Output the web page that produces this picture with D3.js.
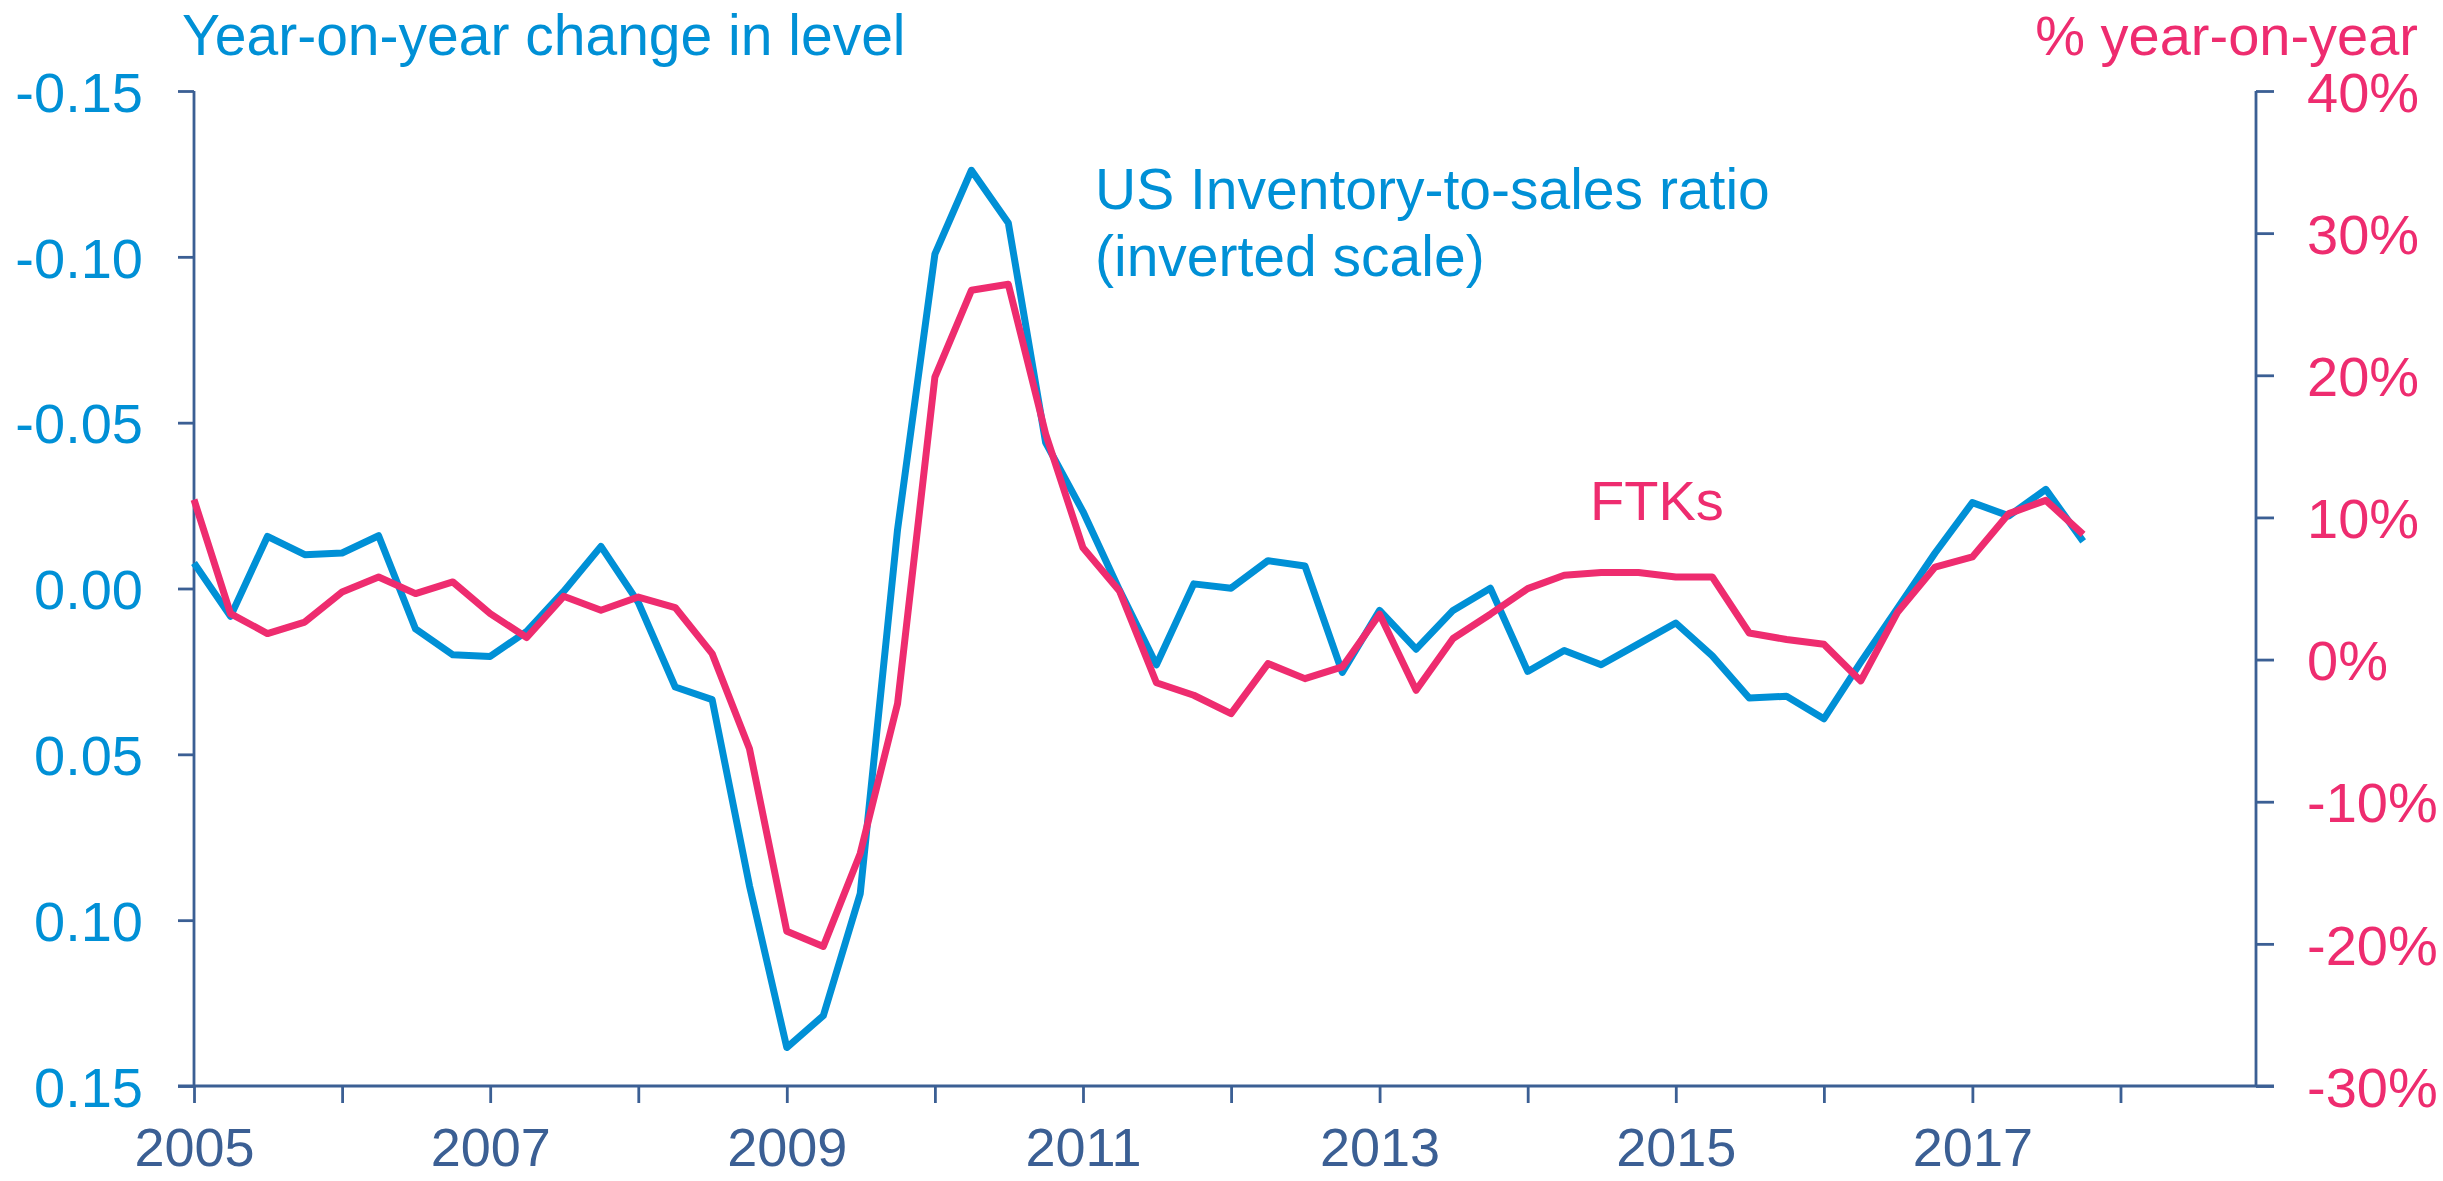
<!DOCTYPE html>
<html lang="en">
<head>
  <meta charset="UTF-8" />
  <title>Inventory-to-sales ratio vs FTKs</title>
  <script src="https://d3js.org/d3.v7.min.js"></script>
  <style>
    body {margin: 0; background: #fff;}
    svg {display: block; font-family: "Liberation Sans", Arial, sans-serif;}
  </style>
</head>
<body>
<script>
  // quarterly observations
  const quarters = [
    "2005Q1","2005Q2","2005Q3","2005Q4","2006Q1","2006Q2","2006Q3","2006Q4",
    "2007Q1","2007Q2","2007Q3","2007Q4","2008Q1","2008Q2","2008Q3","2008Q4",
    "2009Q1","2009Q2","2009Q3","2009Q4","2010Q1","2010Q2","2010Q3","2010Q4",
    "2011Q1","2011Q2","2011Q3","2011Q4","2012Q1","2012Q2","2012Q3","2012Q4",
    "2013Q1","2013Q2","2013Q3","2013Q4","2014Q1","2014Q2","2014Q3","2014Q4",
    "2015Q1","2015Q2","2015Q3","2015Q4","2016Q1","2016Q2","2016Q3","2016Q4",
    "2017Q1","2017Q2","2017Q3","2017Q4"];

  // US inventory-to-sales ratio, y/y change in level (plotted on inverted scale)
  const inventoryChange = [
    -0.0077, 0.0084, -0.0157, -0.0102, -0.0107, -0.0159, 0.0122, 0.0200,
     0.0205, 0.0129, 0.0009, -0.0127, 0.0042, 0.0297, 0.0335, 0.0896,
     0.1384, 0.1288, 0.0920, -0.0178, -0.1008, -0.1261, -0.1102, -0.0440,
    -0.0232, 0.0005, 0.0230, -0.0014, -0.0001, -0.0084, -0.0068, 0.0253,
     0.0066, 0.0183, 0.0066, -0.0001, 0.0250, 0.0187, 0.0230, 0.0167,
     0.0104, 0.0203, 0.0330, 0.0325, 0.0393, 0.0222, 0.0059, -0.0107,
    -0.0259, -0.0219, -0.0299, -0.0142];

  // FTKs, % year-on-year
  const ftkGrowth = [
    11.25, 3.23, 1.83, 2.64, 4.75, 5.81, 4.64, 5.46,
     3.23, 1.55, 4.45, 3.47, 4.40, 3.66, 0.42, -6.27,
   -19.12, -20.18, -13.64, -3.10, 19.87, 25.98, 26.40, 15.87,
     7.86, 4.82, -1.63, -2.51, -3.80, -0.28, -1.34, -0.52,
     3.19, -2.16, 1.48, 3.19, 4.99, 5.93, 6.12, 6.12,
     5.81, 5.81, 1.87, 1.41, 1.08, -1.50, 3.35, 6.51,
     7.22, 10.27, 11.20, 8.81];

  // axis ticks
  const leftTicks = [-0.15, -0.10, -0.05, 0.00, 0.05, 0.10, 0.15];
  const leftTickLabels = ["-0.15", "-0.10", "-0.05", "0.00", "0.05", "0.10", "0.15"];
  const rightTicks = [40, 30, 20, 10, 0, -10, -20, -30];
  const rightTickLabels = ["40%", "30%", "20%", "10%", "0%", "-10%", "-20%", "-30%"];
  const yearTicks = d3.range(2005, 2019);
  const yearLabels = ["2005", "", "2007", "", "2009", "", "2011", "", "2013", "", "2015", "", "2017", ""];

  const blue = "#0090d6";
  const pink = "#ee2c6f";
  const axisColor = "#3b5f94";

  //****CANVAS****
  const width = 2443;
  const height = 1181;
  const plotLeft = 194;
  const plotRight = 2256;
  const plotTop = 91;
  const plotBottom = 1086;

  const svg = d3.select("body")
                .append("svg")
                .attr("width", width)
                .attr("height", height);

  //****SCALES****
  const parseQuarter = (q) => new Date(+q.slice(0, 4), (+q.slice(5) - 1) * 3, 1);

  const xScale = d3.scaleTime()
                   .domain([new Date(2005, 0, 1), new Date(2018, 11, 1)])
                   .range([plotLeft, plotRight]);

  const yLeft = d3.scaleLinear()
                  .domain([-0.15, 0.15])   // inverted: negatives on top
                  .range([plotTop, plotBottom]);

  const yRight = d3.scaleLinear()
                   .domain([-30, 40])
                   .range([plotBottom, plotTop]);

  //****AXES****
  const leftAxis = d3.axisLeft(yLeft)
                     .tickValues(leftTicks)
                     .tickSize(16)
                     .tickPadding(35)
                     .tickFormat((d, i) => leftTickLabels[i]);

  const rightAxis = d3.axisRight(yRight)
                      .tickValues(rightTicks)
                      .tickSize(18)
                      .tickPadding(33)
                      .tickFormat((d, i) => rightTickLabels[i]);

  const bottomAxis = d3.axisBottom(xScale)
                       .tickValues(yearTicks.map((y) => new Date(y, 0, 1)))
                       .tickSize(17)
                       .tickFormat((d, i) => yearLabels[i]);

  const gLeft = svg.append("g")
                   .attr("transform", `translate(${plotLeft}, 0)`)
                   .call(leftAxis);

  const gRight = svg.append("g")
                    .attr("transform", `translate(${plotRight}, 0)`)
                    .call(rightAxis);

  const gBottom = svg.append("g")
                     .attr("transform", `translate(0, ${plotBottom})`)
                     .call(bottomAxis);

  [gLeft, gRight, gBottom].forEach((g) => {
    g.select(".domain").remove();
    g.selectAll(".tick line").attr("stroke", axisColor).attr("stroke-width", 2.8);
    g.selectAll("text").attr("font-family", "Liberation Sans, Arial, sans-serif");
  });

  gLeft.selectAll("text").attr("font-size", 56).attr("fill", blue).attr("dy", "0.36em");
  gRight.selectAll("text").attr("font-size", 56).attr("fill", pink).attr("dy", "0.36em");
  // year labels: baseline kept just inside the bottom edge
  gBottom.selectAll("text").attr("font-size", 54).attr("fill", axisColor)
         .attr("y", 80).attr("dy", 0);

  // axis lines
  svg.append("line")
     .attr("x1", plotLeft).attr("x2", plotLeft)
     .attr("y1", plotTop).attr("y2", plotBottom)
     .attr("stroke", axisColor).attr("stroke-width", 2.8);

  svg.append("line")
     .attr("x1", plotRight).attr("x2", plotRight)
     .attr("y1", plotTop).attr("y2", plotBottom)
     .attr("stroke", axisColor).attr("stroke-width", 2.8);

  svg.append("line")
     .attr("x1", plotLeft - 16).attr("x2", plotRight + 18)
     .attr("y1", plotBottom).attr("y2", plotBottom)
     .attr("stroke", axisColor).attr("stroke-width", 3);

  //****LINES****
  const inventoryLine = d3.line()
                          .x((d, i) => xScale(parseQuarter(quarters[i])))
                          .y((d) => yLeft(d));

  const ftkLine = d3.line()
                    .x((d, i) => xScale(parseQuarter(quarters[i])))
                    .y((d) => yRight(d));

  svg.append("path")
     .attr("d", inventoryLine(inventoryChange))
     .attr("fill", "none")
     .attr("stroke", blue)
     .attr("stroke-width", 7)
     .attr("stroke-linejoin", "round");

  svg.append("path")
     .attr("d", ftkLine(ftkGrowth))
     .attr("fill", "none")
     .attr("stroke", pink)
     .attr("stroke-width", 7)
     .attr("stroke-linejoin", "round");

  //****TITLES AND LABELS****
  svg.append("text")
     .attr("x", 182).attr("y", 55)
     .attr("font-size", 57).attr("fill", blue)
     .text("Year-on-year change in level");

  svg.append("text")
     .attr("x", 2418).attr("y", 55)
     .attr("text-anchor", "end")
     .attr("font-size", 56).attr("fill", pink)
     .text("% year-on-year");

  const note = svg.append("text")
                  .attr("x", 1095).attr("y", 209)
                  .attr("font-size", 57).attr("fill", blue);
  note.append("tspan").attr("x", 1095).text("US Inventory-to-sales ratio");
  note.append("tspan").attr("x", 1095).attr("dy", 67).text("(inverted scale)");

  svg.append("text")
     .attr("x", 1590).attr("y", 520)
     .attr("font-size", 56).attr("fill", pink)
     .text("FTKs");
</script>
</body>
</html>
